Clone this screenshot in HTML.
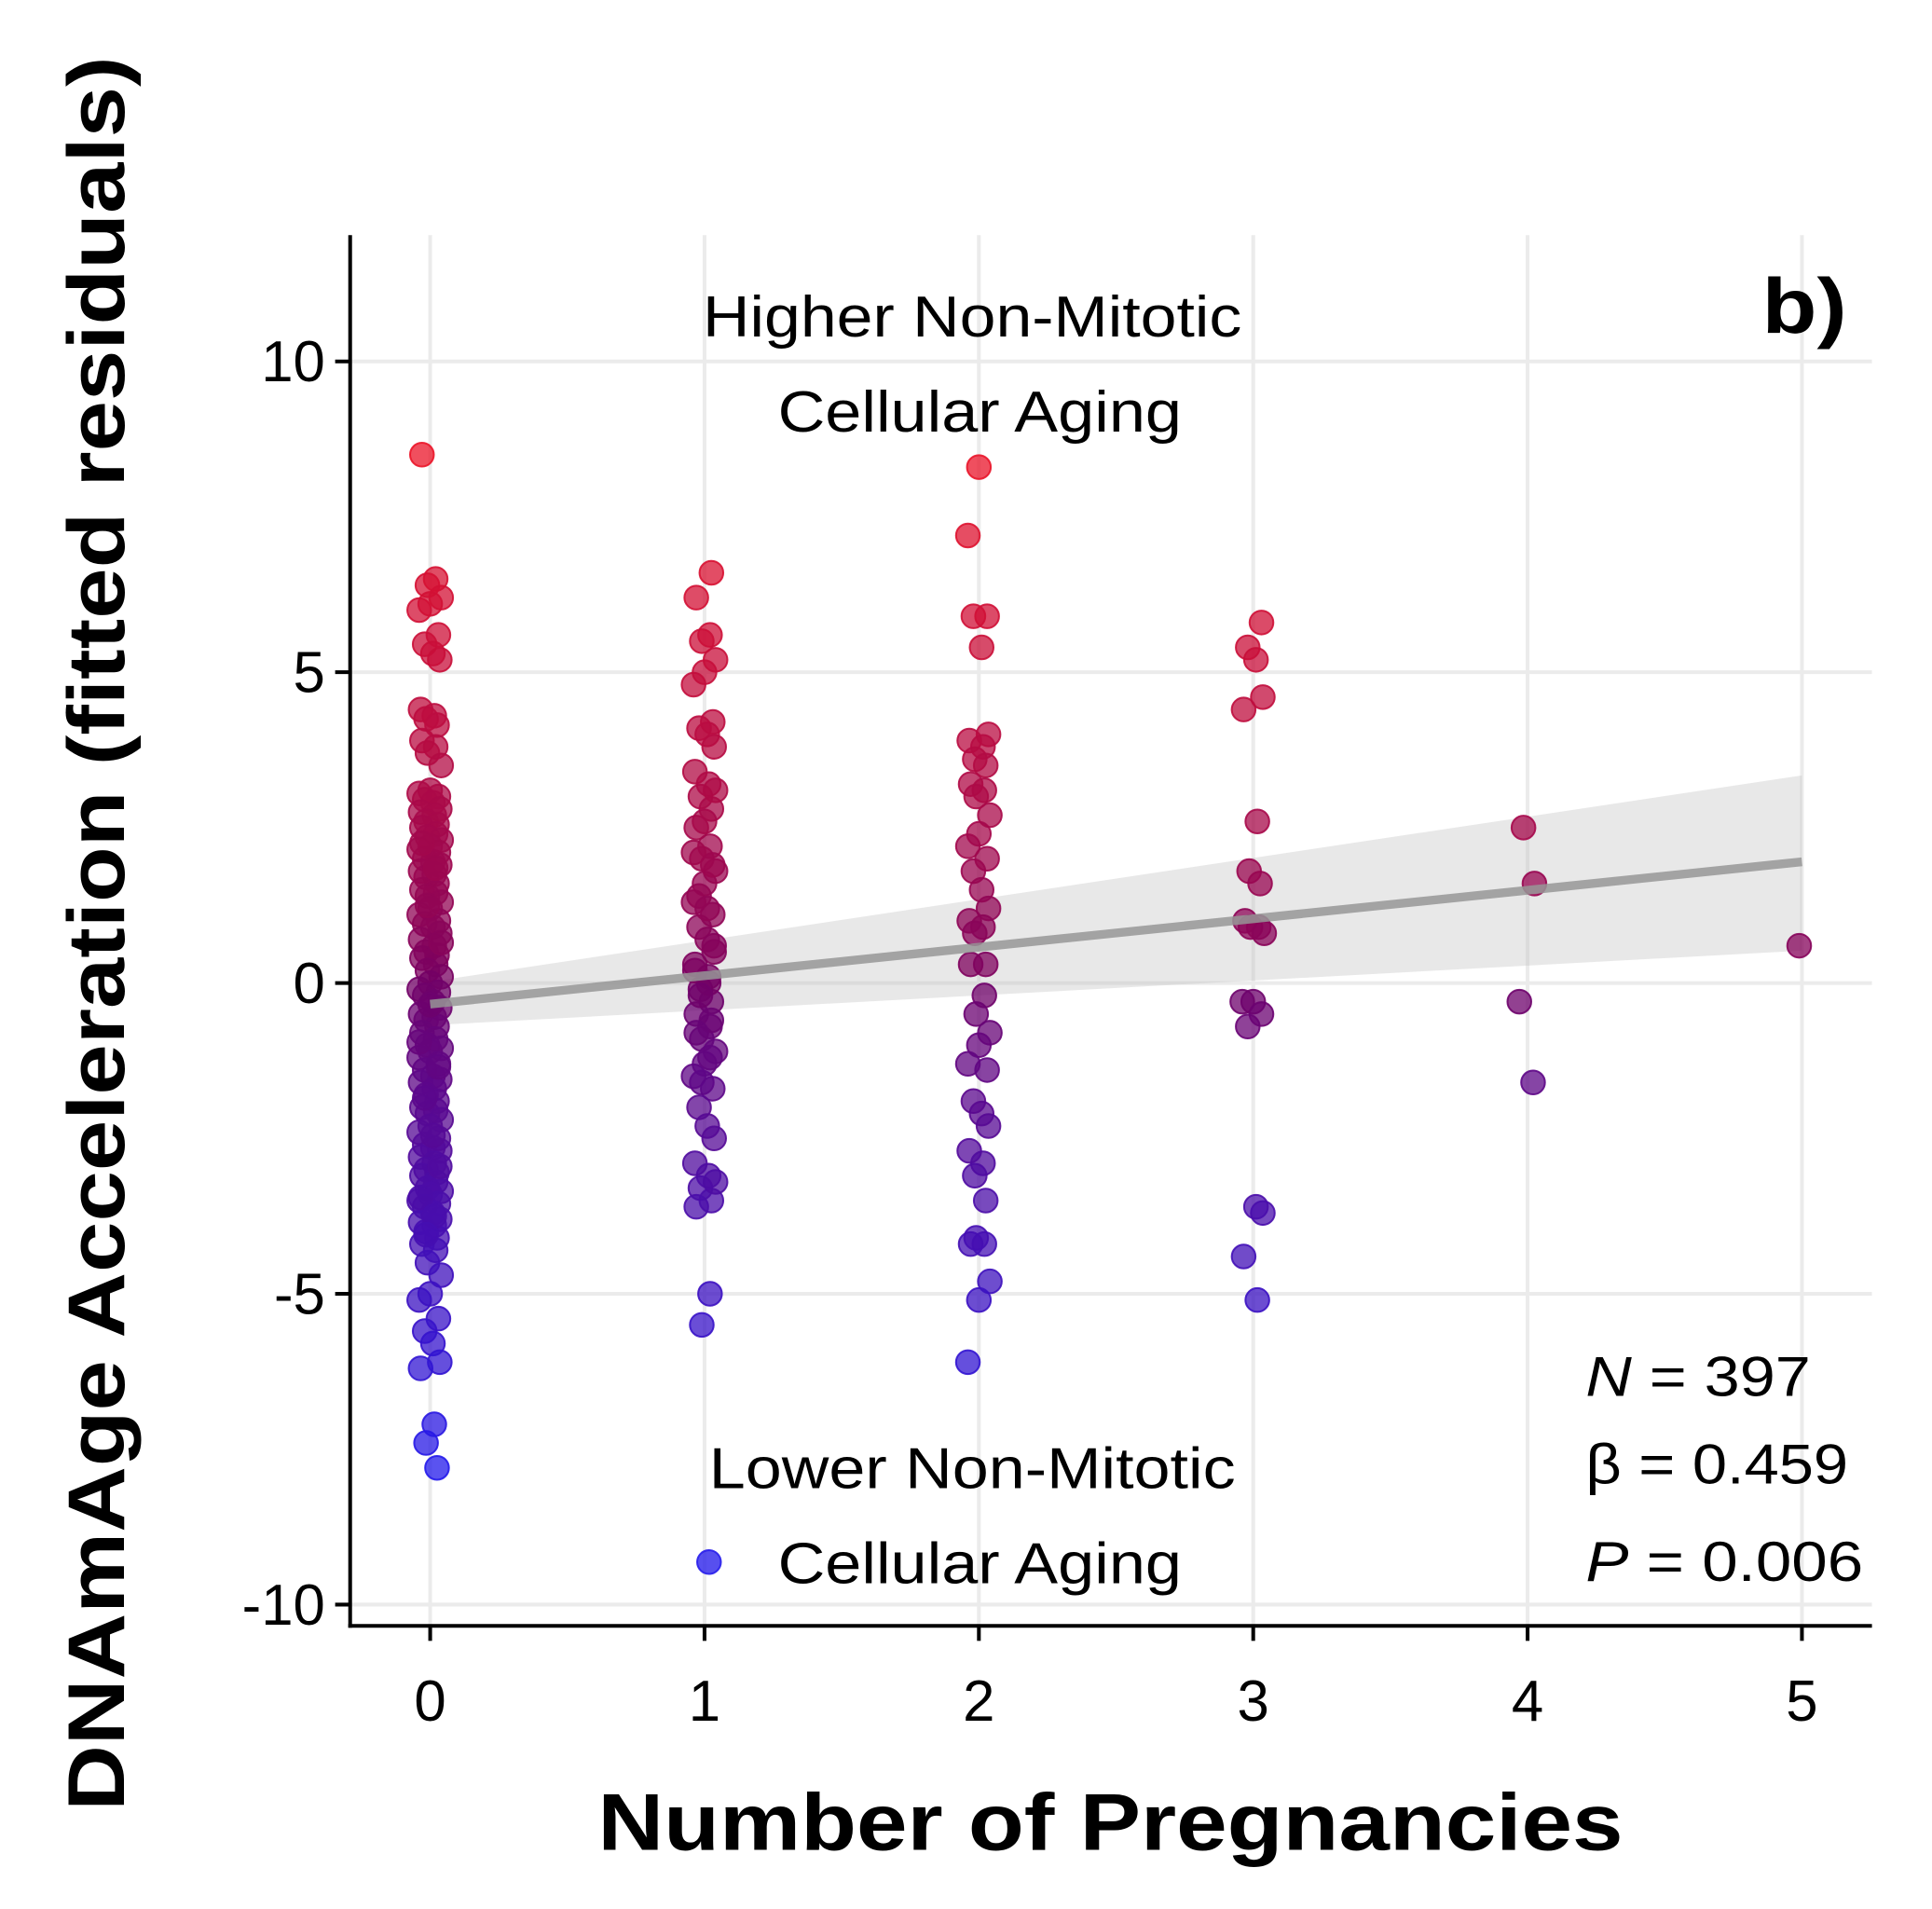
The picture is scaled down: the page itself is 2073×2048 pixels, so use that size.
<!DOCTYPE html>
<html><head><meta charset="utf-8"><style>
html,body{margin:0;padding:0;background:#fff;}
svg{display:block;font-family:"Liberation Sans",Arial,sans-serif;}
</style></head><body>
<svg id="chart" width="2073" height="2048" viewBox="0 0 1545 1526.4" xmlns="http://www.w3.org/2000/svg">
<g id="grid"></g>
<g id="band"></g>
<g id="points"></g>
<g id="axes"></g>
<text x="562" y="269" font-size="46" textLength="431" lengthAdjust="spacingAndGlyphs">Higher Non-Mitotic</text>
<text x="622" y="345" font-size="46" textLength="323" lengthAdjust="spacingAndGlyphs">Cellular Aging</text>
<text x="1409" y="266" font-size="62" font-weight="bold" textLength="68" lengthAdjust="spacingAndGlyphs">b)</text>
<text x="567" y="1190" font-size="46" textLength="421" lengthAdjust="spacingAndGlyphs">Lower Non-Mitotic</text>
<circle cx="567" cy="1249" r="9.5" fill="rgba(40,30,235,0.78)" stroke="rgba(40,30,235,0.9)" stroke-width="1.5"/>
<text x="622" y="1266" font-size="46" textLength="323" lengthAdjust="spacingAndGlyphs">Cellular Aging</text>
<text x="1268" y="1116" font-size="45" textLength="180" lengthAdjust="spacingAndGlyphs"><tspan font-style="italic">N</tspan> = 397</text>
<text x="1268" y="1186" font-size="45" textLength="210" lengthAdjust="spacingAndGlyphs">β = 0.459</text>
<text x="1268" y="1264" font-size="45" textLength="222" lengthAdjust="spacingAndGlyphs"><tspan font-style="italic">P</tspan> = 0.006</text>
<text x="478" y="1479" font-size="64" font-weight="bold" textLength="820" lengthAdjust="spacingAndGlyphs">Number of Pregnancies</text>
<text transform="translate(99,1448) rotate(-90)" font-size="64" font-weight="bold" textLength="1403" lengthAdjust="spacingAndGlyphs">DNAmAge Acceleration (fitted residuals)</text>
</svg>
<script>
const xTicks=[0,1,2,3,4,5];
const yTicks=[-10,-5,0,5,10];
const yTickLabels=["-10","-5","0","5","10"];
const group0=[8.5,6.5,6.4,6.2,6.1,6.0,5.6,5.45,5.3,5.2,4.4,4.3,4.25,4.15,3.9,3.8,3.7,3.5,3.1,3.05,3.0,2.95,2.9,2.8,2.75,2.7,2.6,2.55,2.5,2.4,2.35,2.3,2.2,2.15,2.1,2.0,1.95,1.9,1.8,1.75,1.7,1.6,1.5,1.45,1.4,1.3,1.2,1.1,1.0,0.95,0.9,0.8,0.7,0.6,0.5,0.45,0.4,0.3,0.2,0.1,0.0,-0.1,-0.15,-0.2,-0.3,-0.4,-0.5,-0.55,-0.6,-0.7,-0.8,-0.9,-1.0,-1.05,-1.1,-1.2,-1.3,-1.4,-1.5,-1.55,-1.6,-1.7,-1.8,-1.9,-2.0,-2.05,-2.1,-2.2,-2.3,-2.4,-2.5,-2.6,-2.65,-2.7,-2.8,-2.9,-3.0,-3.05,-3.1,-3.2,-3.3,-3.35,-3.4,-3.5,-3.55,-3.6,-3.7,-3.8,-3.85,-3.9,-4.0,-4.1,-4.2,-4.3,-4.5,-4.7,-5.0,-5.1,-5.4,-5.6,-5.8,-6.1,-6.2,-7.1,-7.4,-7.8,2.25,1.85,1.25,0.65,-0.35,-0.95,-1.35,-1.85,-2.45,-2.95,-3.45,-3.75,-4.05];
const group1=[6.6,6.2,5.6,5.5,5.2,5.0,4.8,4.2,4.1,4.0,3.8,3.4,3.2,3.0,2.8,2.5,2.2,2.0,1.8,1.6,1.3,1.1,0.9,0.7,0.5,0.3,0.1,-0.1,-0.3,-0.5,-0.7,-0.9,-1.1,-1.3,-1.5,-1.7,-2.0,-2.3,-2.5,-2.9,-3.1,-3.3,-3.5,-3.6,-5.0,-5.5,3.1,2.6,2.1,1.9,1.4,1.2,0.6,0.2,0.0,-0.2,-0.6,-0.8,-1.2,-1.6,-3.2];
const group2=[8.3,7.2,5.9,5.9,5.4,4.0,3.9,3.8,3.6,3.5,3.2,3.1,3.0,2.7,2.4,2.2,2.0,1.8,1.5,1.2,1.0,0.9,0.8,0.3,0.3,-0.2,-0.5,-0.8,-1.0,-1.3,-1.4,-1.9,-2.1,-2.3,-2.7,-2.9,-3.1,-3.5,-4.2,-4.2,-4.1,-4.8,-5.1,-6.1];
const group3=[5.8,5.4,5.2,4.6,4.4,2.6,1.8,1.6,1.0,0.9,0.9,0.8,-0.3,-0.3,-0.5,-0.7,-3.6,-3.7,-4.4,-5.1];
const group4=[2.5,1.6,-0.3,-1.6];
const group5=[0.6];
const jitter=[-0.03,0.02,-0.01,0.04,0.0,-0.04,0.03,-0.02,0.01,0.035,-0.035,0.015,-0.015,0.025];
const fitX=[0,5], fitY=[-0.34,1.95], ciLow=[-0.68,0.52], ciHigh=[0.02,3.34];

const NS="http://www.w3.org/2000/svg";
const X0=280,X1=1497,Y0=188,Y1=1300;
const sx=v=>344+v*219.4;
const sy=v=>786-v*49.7;
function mk(tag,attrs,parent){const e=document.createElementNS(NS,tag);for(const k in attrs)e.setAttribute(k,attrs[k]);parent.appendChild(e);return e;}
const grid=document.getElementById('grid'),axes=document.getElementById('axes'),pts=document.getElementById('points'),band=document.getElementById('band');
xTicks.forEach(t=>{
  const l=mk('line',{x1:sx(t),x2:sx(t),y1:Y0,y2:Y1,stroke:'#ebebeb','stroke-width':3},grid);
  
  
  const tk=mk('line',{x1:sx(t),x2:sx(t),y1:Y1,y2:Y1+12,stroke:'#000','stroke-width':3},axes);
  
  
  const tx=mk('text',{x:sx(t),y:1376,'font-size':46,'text-anchor':'middle'},axes);
  tx.textContent=String(t);
  
  
});
yTicks.forEach((t,i)=>{
  const l=mk('line',{x1:X0,x2:X1,y1:sy(t),y2:sy(t),stroke:'#ebebeb','stroke-width':3},grid);
  
  
  const tk=mk('line',{x1:X0-12,x2:X0,y1:sy(t),y2:sy(t),stroke:'#000','stroke-width':3},axes);
  
  
  const tx=mk('text',{x:X0-20,y:sy(t)+16,'font-size':46,'text-anchor':'end'},axes);
  tx.textContent=yTickLabels[i];
  
  
});
const ax1=mk('line',{x1:X0,x2:X0,y1:Y0,y2:Y1+1.5,stroke:'#000','stroke-width':3},axes);


const ax2=mk('line',{x1:X0-1.5,x2:X1,y1:Y1,y2:Y1,stroke:'#000','stroke-width':3},axes);



const bp=mk('polygon',{points:`${sx(fitX[0])},${sy(ciHigh[0])} ${sx(fitX[1])},${sy(ciHigh[1])} ${sx(fitX[1])},${sy(ciLow[1])} ${sx(fitX[0])},${sy(ciLow[0])}`,fill:'rgba(190,190,190,0.35)'},band);



function col(y){
  const blue=[35,25,235],mid=[115,0,100],red=[235,20,40];
  let a,b,t;
  if(y<0){a=mid;b=blue;t=Math.pow(Math.min(1,-y/7.8),0.85);}else{a=mid;b=red;t=Math.pow(Math.min(1,y/8.5),0.7);}
  return a.map((v,i)=>Math.round(v+(b[i]-v)*t));
}
const groups=[group0,group1,group2,group3,group4,group5];
let k=0;
groups.forEach((g,gi)=>{
  g.forEach(v=>{
    const c=col(v);
    const p=mk('circle',{cx:sx(gi+jitter[k%jitter.length]),cy:sy(v),r:9.5,fill:`rgba(${c[0]},${c[1]},${c[2]},0.75)`,stroke:`rgba(${c[0]},${c[1]},${c[2]},0.9)`,'stroke-width':1.5},pts);
    
    
    k++;
  });
});
const fl=mk('line',{x1:sx(fitX[0]),y1:sy(fitY[0]),x2:sx(fitX[1]),y2:sy(fitY[1]),stroke:'rgba(150,150,150,0.85)','stroke-width':7},pts);


</script>
</body></html>
